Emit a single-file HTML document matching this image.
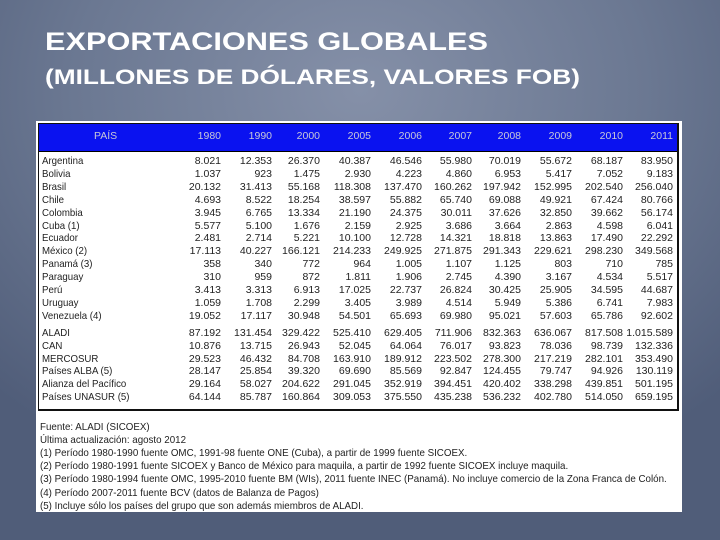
<!DOCTYPE html>
<html><head><meta charset="utf-8">
<style>
html,body{margin:0;padding:0}
body{width:720px;height:540px;overflow:hidden;position:relative;
background:radial-gradient(ellipse 520px 420px at 360px 90px,#8590a8 0%,#6b7892 55%,#505d79 100%);
font-family:"Liberation Sans",Arial,sans-serif}
#panel{position:absolute;left:36px;top:121px;width:646px;height:391px;background:#fff}
#box{position:absolute;left:2px;top:2px;width:638px;height:285px;border:1px solid #111;border-right:2px solid #111;border-bottom:2px solid #111}
#hdr{position:absolute;left:0;top:0;width:638px;height:27px;background:#0a12f0;border-bottom:1px solid #000}
.c{position:absolute;font-size:10.5px;color:#222;white-space:nowrap;line-height:12px}
.h{position:absolute;font-size:10.5px;color:#c8c8d8;white-space:nowrap;line-height:12px}
.n{position:absolute;font-size:10.5px;color:#222;white-space:nowrap;line-height:12px}
</style></head><body>
<svg width="720" height="120" style="position:absolute;left:0;top:0">
<text x="45" y="50" font-family="Liberation Sans" font-weight="bold" font-size="25" fill="#fff" textLength="443" lengthAdjust="spacingAndGlyphs">EXPORTACIONES GLOBALES</text>
<text x="45" y="84" font-family="Liberation Sans" font-weight="bold" font-size="21" fill="#fff" textLength="535" lengthAdjust="spacingAndGlyphs">(MILLONES DE DÓLARES, VALORES FOB)</text>
</svg>
<div id="panel">
 <div id="box">
  <div id="hdr"></div>
 </div>
</div>
<script>
const years=["1980","1990","2000","2005","2006","2007","2008","2009","2010","2011"];
const countries=["Argentina","Bolivia","Brasil","Chile","Colombia","Cuba (1)","Ecuador","México (2)","Panamá (3)","Paraguay","Perú","Uruguay","Venezuela (4)"];
const groups=["ALADI","CAN","MERCOSUR","Países ALBA (5)","Alianza del Pacífico","Países UNASUR (5)"];
const countryValues=[
["8.021","12.353","26.370","40.387","46.546","55.980","70.019","55.672","68.187","83.950"],
["1.037","923","1.475","2.930","4.223","4.860","6.953","5.417","7.052","9.183"],
["20.132","31.413","55.168","118.308","137.470","160.262","197.942","152.995","202.540","256.040"],
["4.693","8.522","18.254","38.597","55.882","65.740","69.088","49.921","67.424","80.766"],
["3.945","6.765","13.334","21.190","24.375","30.011","37.626","32.850","39.662","56.174"],
["5.577","5.100","1.676","2.159","2.925","3.686","3.664","2.863","4.598","6.041"],
["2.481","2.714","5.221","10.100","12.728","14.321","18.818","13.863","17.490","22.292"],
["17.113","40.227","166.121","214.233","249.925","271.875","291.343","229.621","298.230","349.568"],
["358","340","772","964","1.005","1.107","1.125","803","710","785"],
["310","959","872","1.811","1.906","2.745","4.390","3.167","4.534","5.517"],
["3.413","3.313","6.913","17.025","22.737","26.824","30.425","25.905","34.595","44.687"],
["1.059","1.708","2.299","3.405","3.989","4.514","5.949","5.386","6.741","7.983"],
["19.052","17.117","30.948","54.501","65.693","69.980","95.021","57.603","65.786","92.602"]];
const groupValues=[
["87.192","131.454","329.422","525.410","629.405","711.906","832.363","636.067","817.508","1.015.589"],
["10.876","13.715","26.943","52.045","64.064","76.017","93.823","78.036","98.739","132.336"],
["29.523","46.432","84.708","163.910","189.912","223.502","278.300","217.219","282.101","353.490"],
["28.147","25.854","39.320","69.690","85.569","92.847","124.455","79.747","94.926","130.119"],
["29.164","58.027","204.622","291.045","352.919","394.451","420.402","338.298","439.851","501.195"],
["64.144","85.787","160.864","309.053","375.550","435.238","536.232","402.780","514.050","659.195"]];
const notes=["Fuente: ALADI (SICOEX)","Última actualización: agosto 2012",
"(1) Período 1980-1990 fuente OMC, 1991-98 fuente ONE (Cuba), a partir de 1999 fuente SICOEX.",
"(2) Período 1980-1991 fuente SICOEX y Banco de México para maquila, a partir de 1992 fuente SICOEX incluye maquila.",
"(3) Período 1980-1994 fuente OMC, 1995-2010 fuente BM (WIs), 2011 fuente INEC (Panamá).  No incluye comercio de la Zona Franca de Colón.",
"(4) Período 2007-2011 fuente BCV (datos de Balanza de Pagos)",
"(5) Incluye sólo los países del grupo que son además miembros de ALADI."];
const colRight=[221,272,320,371,422,472,521,572,623,673];
const body=document.body;
function put(cls,txt,x,y,right,name,w){
 const d=document.createElement('div');d.className=cls;d.textContent=txt;
 
 
 d.style.top=(y-6)+'px';
 if(right){d.style.right=(720-x)+'px';}else{d.style.left=x+'px';}
 if(w){d.style.transform='scaleX('+w+')';d.style.transformOrigin='left';}
 body.appendChild(d);
}
put('h','PAÍS',94,136,false,'header-country');
years.forEach((y,i)=>put('h',y,colRight[i],136,true,'header-year-'+y));
function rowY(i){return 161+i*12.9;}
countries.forEach((c,i)=>{
 put('c',c,42,rowY(i),false,'country-label',0.92);
 countryValues[i].forEach((v,j)=>put('c',v,colRight[j],rowY(i),true,'cell-value'));
});
groups.forEach((g,i)=>{
 const y=333+i*12.8;
 put('c',g,42,y,false,'group-label',0.92);
 groupValues[i].forEach((v,j)=>put('c',v,colRight[j],y,true,'group-cell-value'));
});
notes.forEach((n,i)=>put('n',n,40,427+i*13.1,false,'footnote',0.93));
</script>
</body></html>
